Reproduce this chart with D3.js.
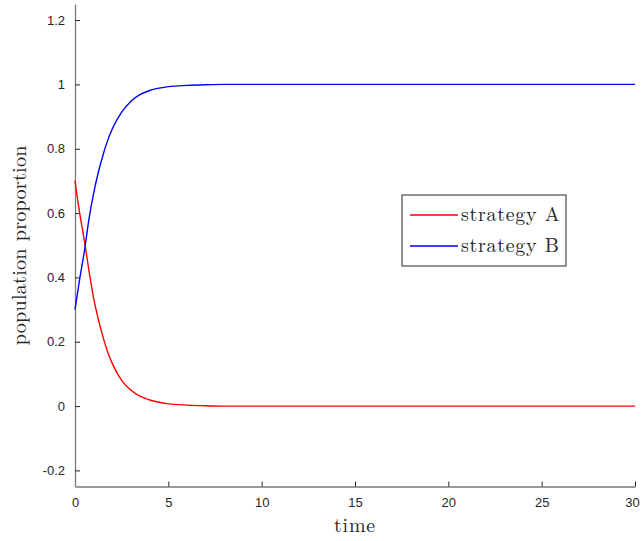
<!DOCTYPE html>
<html>
<head>
<meta charset="utf-8">
<script src="https://cdn.jsdelivr.net/npm/d3@7.9.0/dist/d3.min.js"></script>
<style>
  body { margin: 0; background: #fff; }
  svg { display: block; }
</style>
</head>
<body>
<svg></svg>
<script>
// values
const times     = [0, 0.25, 0.5, 0.75, 1, 1.25, 1.5, 1.75, 2, 2.5, 3, 3.5, 4, 5, 6, 7, 8, 10, 15, 20, 25, 30];
const strategyA = [0.70, 0.60, 0.515, 0.42, 0.335, 0.27, 0.215, 0.168, 0.132, 0.08, 0.049, 0.03, 0.019, 0.007, 0.003, 0.001, 0, 0, 0, 0, 0, 0];
const strategyB = [0.30, 0.395, 0.48, 0.582, 0.662, 0.727, 0.78, 0.826, 0.862, 0.914, 0.948, 0.969, 0.981, 0.993, 0.997, 0.999, 1, 1, 1, 1, 1, 1];
const xTicks = [0, 5, 10, 15, 20, 25, 30];
const yTicks = [-0.2, 0, 0.2, 0.4, 0.6, 0.8, 1, 1.2];
const seriesNames = ["strategy A", "strategy B"];
const seriesColors = ["#ff0000", "#0000ff"];

const width = 641, height = 541;
const margin = {left: 75, right: 6, top: 4, bottom: 54.5};

const svg = d3.select("svg")
    .attr("width", width)
    .attr("height", height);

const x = d3.scaleLinear().domain([0, 30]).range([margin.left, width - margin.right]);
const y = d3.scaleLinear().domain([-0.25, 1.25]).range([height - margin.bottom, margin.top]);

const axisColor = "#7a7a7a";
const textColor = "#262626";

// x axis
const gx = svg.append("g")
    .attr("transform", `translate(0,${height - margin.bottom})`)
    .call(d3.axisBottom(x).tickValues(xTicks).tickSizeInner(-5).tickSizeOuter(0).tickPadding(11));

// y axis (plain hyphen for negatives, like the original)
const gy = svg.append("g")
    .attr("transform", `translate(${margin.left},0)`)
    .call(d3.axisLeft(y).tickValues(yTicks).tickSizeInner(-5).tickSizeOuter(0).tickPadding(10)
        .tickFormat(d => String(+d.toFixed(1))));

[gx, gy].forEach(g => {
    g.select(".domain").attr("stroke", axisColor).attr("stroke-width", 1.3);
    g.selectAll(".tick line").attr("stroke", textColor).attr("stroke-width", 1);
    g.selectAll(".tick text")
        .attr("fill", textColor)
        .style("font-family", "'Liberation Sans', Arial, sans-serif")
        .style("font-size", "13px");
});
// last x label sits against the right edge
gx.selectAll(".tick text").filter(d => d === 30).attr("dx", "-3");

// lines
const line = d3.line()
    .x((d, i) => x(times[i]))
    .y(d => y(d))
    .curve(d3.curveMonotoneX);

[strategyA, strategyB].forEach((vals, i) => {
    svg.append("path")
        .datum(vals)
        .attr("fill", "none")
        .attr("stroke", seriesColors[i])
        .attr("stroke-width", 1.4)
        .attr("d", line);
});

// axis labels
const serif = "'Latin Modern Roman', 'Liberation Serif', 'DejaVu Serif', serif";
svg.append("text")
    .attr("x", (x.range()[0] + x.range()[1]) / 2)
    .attr("y", 532)
    .attr("text-anchor", "middle")
    .attr("fill", textColor)
    .style("font-family", serif)
    .style("font-size", "20px")
    .style("letter-spacing", "0.8px")
    .text("time");

svg.append("text")
    .attr("transform", `translate(26,${(y.range()[0] + y.range()[1]) / 2}) rotate(-90)`)
    .attr("text-anchor", "middle")
    .attr("fill", textColor)
    .style("font-family", serif)
    .style("font-size", "20px")
    .style("letter-spacing", "0.3px")
    .text("population proportion");

// legend
const legend = svg.append("g").attr("transform", "translate(402,195)");
legend.append("rect")
    .attr("width", 164).attr("height", 71)
    .attr("fill", "#fff")
    .attr("stroke", textColor)
    .attr("stroke-width", 1);

seriesNames.forEach((name, i) => {
    const ly = 20 + i * 31;
    legend.append("line")
        .attr("x1", 8).attr("x2", 56)
        .attr("y1", ly).attr("y2", ly)
        .attr("stroke", seriesColors[i])
        .attr("stroke-width", 1.4);
    legend.append("text")
        .attr("x", 59).attr("y", ly + 6)
        .attr("fill", textColor)
        .style("font-family", serif)
        .style("font-size", "20px")
        .style("letter-spacing", "0.7px")
        .text(name);
});
</script>
</body>
</html>
